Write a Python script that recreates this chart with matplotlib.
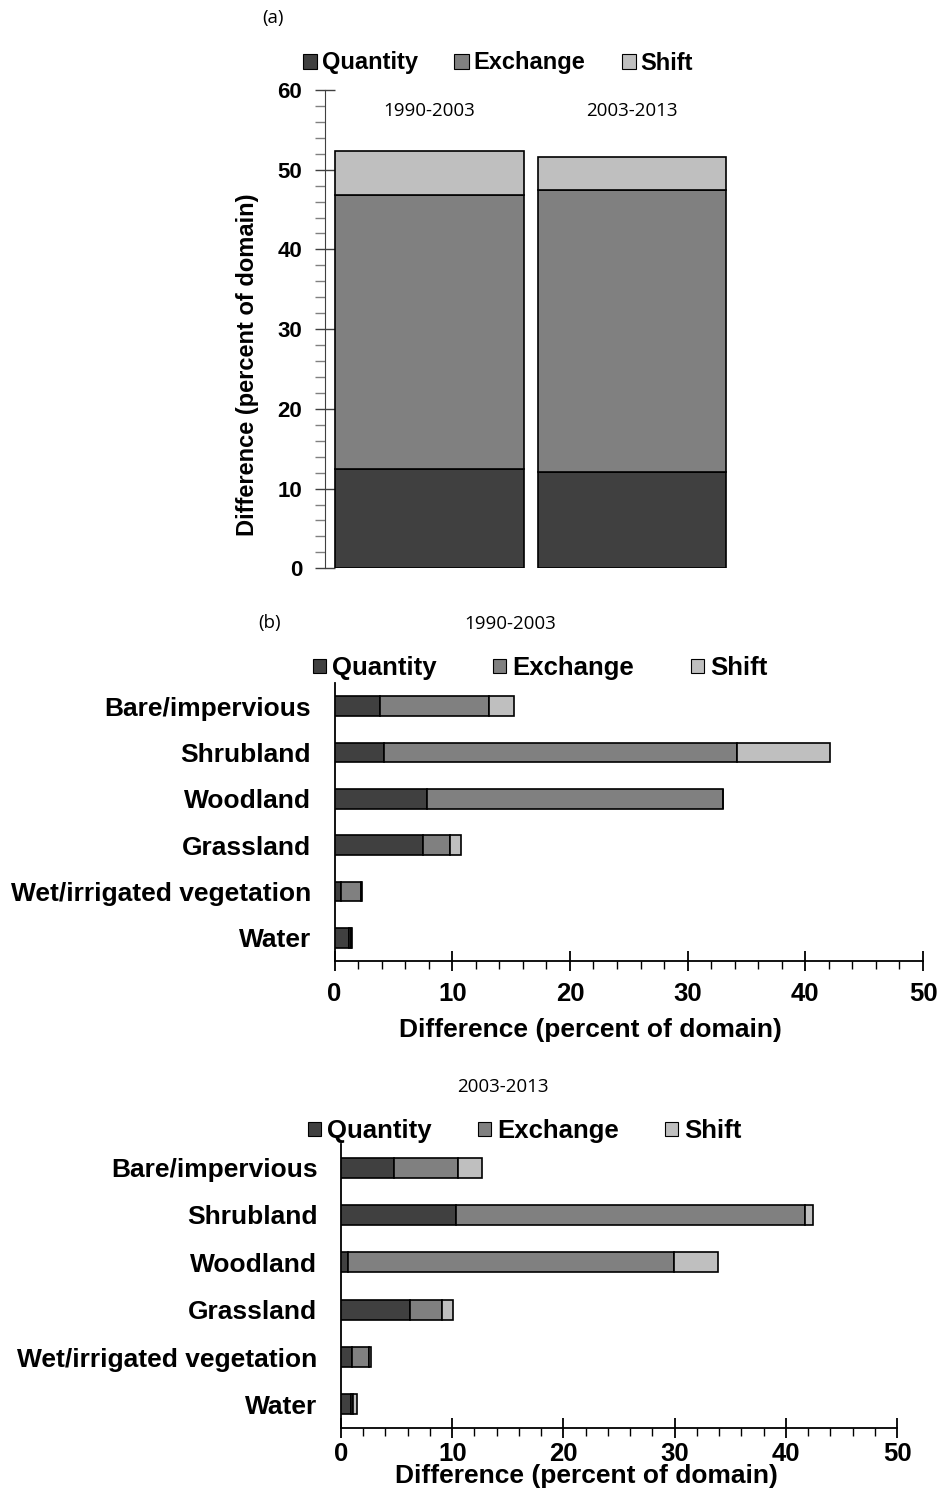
import matplotlib
matplotlib.use("Agg")
import matplotlib.pyplot as plt
from matplotlib.patches import Patch
from matplotlib.ticker import MultipleLocator

# ---------------- data ----------------
components = ["Quantity", "Exchange", "Shift"]
colors = ["#404040", "#808080", "#bfbfbf"]

periods = ["1990-2003", "2003-2013"]
a_quantity = [12.45, 12.05]
a_exchange = [34.4, 35.45]
a_shift = [5.5, 4.05]

categories = ["Bare/impervious", "Shrubland", "Woodland", "Grassland",
              "Wet/irrigated vegetation", "Water"]
b1_quantity = [3.9, 4.2, 7.85, 7.55, 0.55, 1.2]
b1_exchange = [9.25, 30.0, 25.15, 2.25, 1.7, 0.17]
b1_shift = [2.1, 7.9, 0.0, 0.95, 0.1, 0.14]

b2_quantity = [4.76, 10.37, 0.66, 6.23, 0.96, 0.87]
b2_exchange = [5.8, 31.4, 29.25, 2.85, 1.53, 0.21]
b2_shift = [2.12, 0.65, 4.0, 0.96, 0.18, 0.33]

# ---------------- figure ----------------
W, H = 938, 1492
fig = plt.figure(figsize=(W / 100, H / 100), dpi=100)
BOLD = dict(family="Liberation Sans", weight="bold")
REG = "Open Sans"


def fx(px):
    return px / W


def fy(py):
    return 1 - py / H


edge = dict(edgecolor="black", linewidth=1.2)

# ---------- panel (a) ----------
axa = fig.add_axes([fx(325), fy(568.3), fx(736.5) - fx(325), fy(90) - fy(568.3)])
xa = list(range(len(periods)))
bw = 0.93
bot = [0.0] * len(periods)
for vals, c in zip([a_quantity, a_exchange, a_shift], colors):
    axa.bar(xa, vals, width=bw, bottom=bot, color=c, **edge, zorder=3)
    bot = [b + v for b, v in zip(bot, vals)]
axa.set_xlim(-0.516, 1.516)
axa.set_ylim(0, 60)
axa.yaxis.set_major_locator(MultipleLocator(10))
axa.yaxis.set_minor_locator(MultipleLocator(2))
axa.set_xticks([])
for s in ["top", "right", "bottom"]:
    axa.spines[s].set_visible(False)
axa.spines["left"].set_color("#404040")
axa.tick_params(axis="y", which="major", direction="inout", length=15, width=1,
                color="#404040", pad=9)
axa.tick_params(axis="y", which="minor", direction="out", length=7, width=1,
                color="#808080")
for lab in axa.get_yticklabels():
    lab.set_fontfamily("Liberation Sans")
    lab.set_fontweight("bold")
    lab.set_fontsize(16)
axa.set_ylabel("Difference (percent of domain)", fontsize=17, **BOLD)
axa.yaxis.set_label_coords(-0.16, 0.425)
for i, p in enumerate(periods):
    axa.text(i, 57.4, p, ha="center", va="center", fontsize=13.5, family=REG)

handles = [Patch(facecolor=c, edgecolor="black", linewidth=0.8) for c in colors]
fig.legend(handles, components, loc="center", bbox_to_anchor=(fx(498), fy(63)),
           ncol=3, frameon=False, handlelength=0.6, handleheight=0.6,
           handletextpad=0.2, columnspacing=1.55,
           prop=dict(family="Liberation Sans", weight="bold", size=17))

fig.text(fx(273), fy(18), "(a)", ha="center", va="center", fontsize=13.5, family=REG)


# ---------- panels (b) ----------
def hpanel(rect, q, e, s, title_xy, title, legend_xy, colspace):
    ax = fig.add_axes(rect)
    y = list(range(len(categories)))
    left = [0.0] * len(categories)
    for vals, c in zip([q, e, s], colors):
        ax.barh(y, vals, height=0.42, left=left, color=c, **edge, zorder=3)
        left = [l + v for l, v in zip(left, vals)]
    ax.set_ylim(len(categories) - 0.5, -0.5)
    ax.set_xlim(0, 50)
    ax.set_yticks(y)
    ax.set_yticklabels(categories)
    ax.xaxis.set_major_locator(MultipleLocator(10))
    ax.xaxis.set_minor_locator(MultipleLocator(2))
    for sp in ["top", "right"]:
        ax.spines[sp].set_visible(False)
    ax.spines["left"].set_linewidth(1.3)
    ax.spines["bottom"].set_linewidth(1.3)
    ax.tick_params(axis="y", length=0, pad=17)
    ax.tick_params(axis="x", which="major", direction="inout", length=14, width=1.3)
    ax.tick_params(axis="x", which="minor", direction="out", length=6, width=1)
    for lab in ax.get_yticklabels():
        lab.set_fontfamily("Liberation Sans")
        lab.set_fontweight("bold")
        lab.set_fontsize(19)
    for lab in ax.get_xticklabels():
        lab.set_fontfamily("Liberation Sans")
        lab.set_fontweight("bold")
        lab.set_fontsize(18.5)
    fig.text(fx(title_xy[0]), fy(title_xy[1]), title, ha="center", va="center",
             fontsize=13.5, family=REG)
    hs = [Patch(facecolor=c, edgecolor="black", linewidth=0.8) for c in colors]
    fig.legend(hs, components, loc="center",
               bbox_to_anchor=(fx(legend_xy[0]), fy(legend_xy[1])),
               ncol=3, frameon=False, handlelength=0.5, handleheight=0.5,
               handletextpad=0.25, columnspacing=colspace,
               prop=dict(family="Liberation Sans", weight="bold", size=18.5))
    return ax


axb1 = hpanel([fx(334.5), fy(961), fx(923) - fx(334.5), fy(683) - fy(961)],
              b1_quantity, b1_exchange, b1_shift, (510, 624), periods[0], (540, 668), 2.2)
axb1.tick_params(axis="x", which="major", pad=8)
axb1.set_xlabel("Difference (percent of domain)", fontsize=19, **BOLD)
axb1.xaxis.set_label_coords((590 - 334.5) / (923 - 334.5), -(1030 - 961) / (961 - 683),
                            transform=axb1.transAxes)
axb1.xaxis.label.set_va("center")

axb2 = hpanel([fx(341), fy(1428), fx(897) - fx(341), fy(1144) - fy(1428)],
              b2_quantity, b2_exchange, b2_shift, (503, 1087), periods[1], (525, 1131), 1.8)
axb2.tick_params(axis="x", which="major", pad=3)
axb2.set_xlabel("Difference (percent of domain)", fontsize=19, **BOLD)
axb2.xaxis.set_label_coords((586 - 341) / (897 - 341), -(1476 - 1428) / (1428 - 1144),
                            transform=axb2.transAxes)
axb2.xaxis.label.set_va("center")

fig.text(fx(270), fy(623), "(b)", ha="center", va="center", fontsize=13.5, family=REG)

fig.savefig("out.png", dpi=100, facecolor="white")
